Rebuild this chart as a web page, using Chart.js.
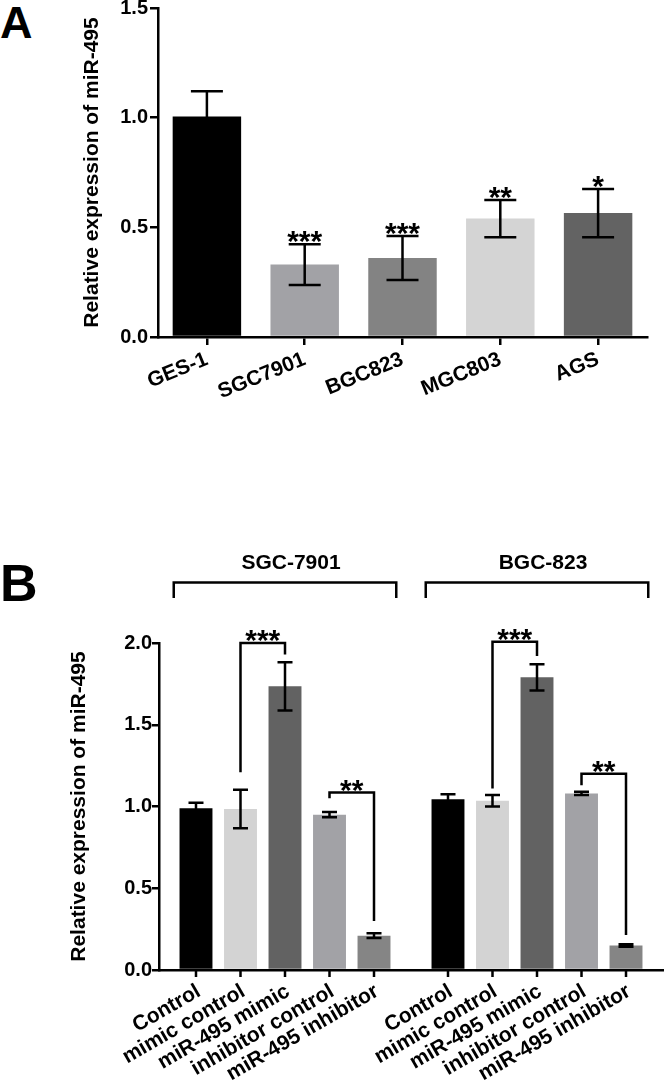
<!DOCTYPE html>
<html>
<head>
<meta charset="utf-8">
<script src="https://cdn.jsdelivr.net/npm/chart.js@4.4.0/dist/chart.umd.min.js"></script>
<style>
  html, body { margin: 0; padding: 0; background: #fff; }
  body { width: 666px; height: 1082px; position: relative; overflow: hidden; font-family: "Liberation Sans", Arial, sans-serif; }
  .panel { position: absolute; left: 0; width: 666px; }
  #wrapA { top: -6px; height: 426px; }
  #wrapB { top: 540px; height: 542px; }
  .letter { position: absolute; left: 0; font-weight: bold; line-height: 1; }
</style>
</head>
<body>
<div class="letter" style="top:0px;font-size:45px">A</div>
<div class="letter" style="top:557px;font-size:52px">B</div>
<div class="panel" id="wrapA"><canvas id="chartA"></canvas></div>
<div class="panel" id="wrapB"><canvas id="chartB"></canvas></div>

<script>
// ---- panel A data ----
const cellLines = ['GES-1', 'SGC7901', 'BGC823', 'MGC803', 'AGS'];
const cellMeans = [1.005, 0.33, 0.36, 0.54, 0.565];
const cellErr   = [0.115, 0.093, 0.10, 0.085, 0.11];
const cellStars = ['', '***', '***', '**', '*'];
const cellColors = ['#000000', '#a2a2a6', '#838383', '#d4d4d4', '#636363'];

// ---- panel B data ----
const groups     = ['SGC-7901', 'BGC-823'];
const treatments = ['Control', 'mimic control', 'miR-495 mimic', 'inhibitor control', 'miR-495 inhibitor'];
const sgcMeans   = [0.99, 0.985, 1.735, 0.95, 0.21];
const sgcErr     = [0.033, 0.118, 0.148, 0.016, 0.015];
const bgcMeans   = [1.045, 1.035, 1.79, 1.08, 0.15];
const bgcErr     = [0.03, 0.035, 0.08, 0.01, 0.008];
const treatColors = ['#000000', '#d3d3d3', '#626262', '#a2a2a6', '#858585'];

// significance brackets (values in y units)
const bracketGroup   = [0, 0, 1, 1];
const bracketFrom    = [1, 3, 1, 3];
const bracketTo      = [2, 4, 2, 4];
const bracketTop     = [2.0, 1.085, 2.007, 1.2];
const bracketFromEnd = [1.21, 1.05, 1.11, 1.13];
const bracketToEnd   = [1.93, 0.30, 1.92, 0.214];
const bracketStars   = ['***', '**', '***', '**'];

const FONT = '"Liberation Sans", Arial, sans-serif';
Chart.defaults.font.family = FONT;
Chart.defaults.color = '#000';

const errorBars = {
  id: 'errorBars',
  afterDatasetsDraw(chart, args, opts) {
    const { ctx } = chart;
    const y = chart.scales.y;
    ctx.save();
    ctx.strokeStyle = '#000';
    ctx.fillStyle = '#000';
    ctx.lineWidth = opts.lineWidth;
    ctx.font = 'bold 30px ' + FONT;
    ctx.textAlign = 'center';
    ctx.textBaseline = 'alphabetic';
    chart.data.datasets.forEach((ds, di) => {
      chart.getDatasetMeta(di).data.forEach((bar, i) => {
        const m = ds.data[i], e = ds.errors[i];
        const top = y.getPixelForValue(m + e);
        const bot = y.getPixelForValue(m - e);
        const h = opts.capWidth / 2;
        ctx.beginPath();
        ctx.moveTo(bar.x, top); ctx.lineTo(bar.x, bot);
        ctx.moveTo(bar.x - h, top); ctx.lineTo(bar.x + h, top);
        ctx.moveTo(bar.x - h, bot); ctx.lineTo(bar.x + h, bot);
        ctx.stroke();
        if (ds.stars && ds.stars[i]) ctx.fillText(ds.stars[i], bar.x, top + 7);
      });
    });
    ctx.restore();
  }
};

const groupDecor = {
  id: 'groupDecor',
  afterDraw(chart) {
    const { ctx } = chart;
    const y = chart.scales.y;
    const xs = chart.scales.x;
    const barX = (d, g) => chart.getDatasetMeta(d).data[g].x;
    const slot = barX(1, 0) - barX(0, 0);
    ctx.save();
    ctx.strokeStyle = '#000';
    ctx.fillStyle = '#000';
    ctx.lineWidth = 2.5;

    // per-bar tick marks and rotated labels
    ctx.font = 'bold 21px ' + FONT;
    ctx.textAlign = 'right';
    ctx.textBaseline = 'middle';
    treatments.forEach((t, d) => {
      groups.forEach((g, gi) => {
        const x = barX(d, gi);
        ctx.beginPath();
        ctx.moveTo(x, xs.top); ctx.lineTo(x, xs.top + 7);
        ctx.stroke();
        ctx.save();
        ctx.translate(x + 3, xs.top + 20);
        ctx.rotate(-30 * Math.PI / 180);
        ctx.fillText(t, 0, 0);
        ctx.restore();
      });
    });

    // group headers with brackets
    ctx.textAlign = 'center';
    groups.forEach((g, gi) => {
      const l = barX(0, gi) - slot / 2;
      const r = barX(treatments.length - 1, gi) + slot / 2;
      ctx.beginPath();
      ctx.moveTo(l, 58); ctx.lineTo(l, 42.5); ctx.lineTo(r, 42.5); ctx.lineTo(r, 58);
      ctx.stroke();
      ctx.fillText(g, (l + r) / 2 + 6, 23);
    });

    // significance brackets
    ctx.font = 'bold 30px ' + FONT;
    ctx.textBaseline = 'alphabetic';
    bracketStars.forEach((s, k) => {
      const g = bracketGroup[k];
      const xa = barX(bracketFrom[k], g), xb = barX(bracketTo[k], g);
      const yt = y.getPixelForValue(bracketTop[k]);
      ctx.beginPath();
      ctx.moveTo(xa, y.getPixelForValue(bracketFromEnd[k]));
      ctx.lineTo(xa, yt); ctx.lineTo(xb, yt);
      ctx.lineTo(xb, y.getPixelForValue(bracketToEnd[k]));
      ctx.stroke();
      ctx.fillText(s, (xa + xb) / 2, yt + 7);
    });
    ctx.restore();
  }
};

const yTitle = (pad) => ({
  display: true, text: 'Relative expression of miR-495',
  font: { size: 21, weight: 'bold' }, padding: { top: pad, bottom: 0 },
});

new Chart(document.getElementById('chartA'), {
  type: 'bar',
  data: {
    labels: cellLines,
    datasets: [{
      data: cellMeans, errors: cellErr, stars: cellStars,
      backgroundColor: cellColors, barPercentage: 0.7, categoryPercentage: 1.0,
    }],
  },
  options: {
    responsive: true, maintainAspectRatio: false, animation: false,
    layout: { padding: { left: 0, right: 19, top: 7, bottom: 0 } },
    plugins: { legend: { display: false }, tooltip: { enabled: false },
               errorBars: { capWidth: 32, lineWidth: 2.5 } },
    scales: {
      x: {
        afterFit: s => { s.height = 83; },
        border: { color: '#000', width: 2.5 },
        grid: { offset: false, drawOnChartArea: false, tickLength: 8, color: '#000', lineWidth: 2.5 },
        ticks: { minRotation: 22, maxRotation: 22, padding: 2, font: { size: 21, weight: 'bold' } },
      },
      y: {
        min: 0, max: 1.5,
        afterFit: s => { s.width = 158; },
        border: { color: '#000', width: 2.5 },
        grid: { drawOnChartArea: false, tickLength: 8, color: '#000', lineWidth: 2.5 },
        ticks: { stepSize: 0.5, padding: 2, callback: v => v.toFixed(1), font: { size: 20, weight: 'bold' } },
        title: yTitle(80),
      },
    },
  },
  plugins: [errorBars],
});

new Chart(document.getElementById('chartB'), {
  type: 'bar',
  data: {
    labels: groups,
    datasets: treatments.map((t, i) => ({
      label: t,
      data: [sgcMeans[i], bgcMeans[i]],
      errors: [sgcErr[i], bgcErr[i]],
      backgroundColor: treatColors[i],
      barPercentage: 0.74, categoryPercentage: 0.883,
    })),
  },
  options: {
    responsive: true, maintainAspectRatio: false, animation: false,
    layout: { padding: { left: 0, right: 3, top: 103, bottom: 0 } },
    plugins: { legend: { display: false }, tooltip: { enabled: false },
               errorBars: { capWidth: 15, lineWidth: 2.5 } },
    scales: {
      x: {
        afterFit: s => { s.height = 112; },
        border: { color: '#000', width: 2.5 },
        grid: { drawOnChartArea: false, drawTicks: false },
        ticks: { display: false },
      },
      y: {
        min: 0, max: 2,
        afterFit: s => { s.width = 159; },
        border: { color: '#000', width: 2.5 },
        grid: { drawOnChartArea: false, tickLength: 7, color: '#000', lineWidth: 2.5 },
        ticks: { stepSize: 0.5, padding: 0, callback: v => v.toFixed(1), font: { size: 20, weight: 'bold' } },
        title: yTitle(67),
      },
    },
  },
  plugins: [errorBars, groupDecor],
});
</script>
</body>
</html>
